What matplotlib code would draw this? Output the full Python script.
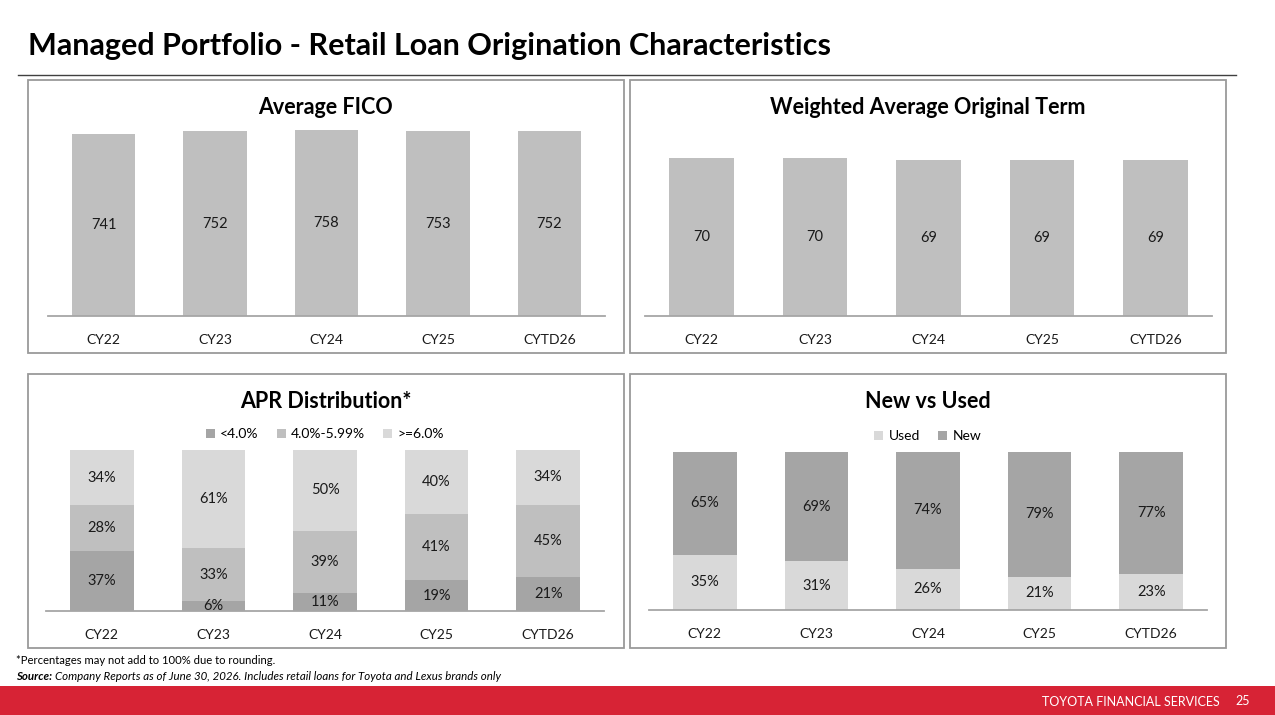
import numpy as np
import matplotlib
matplotlib.use("Agg")
import matplotlib.pyplot as plt
from matplotlib.patches import Rectangle
from matplotlib.lines import Line2D

plt.rcParams['font.family'] = ['Lato', 'DejaVu Sans']

# dados
anos = ['CY22', 'CY23', 'CY24', 'CY25', 'CYTD26']
fico = [741, 752, 758, 753, 752]
prazo = [70, 70, 69, 69, 69]
apr_baixo = [37, 6, 11, 19, 21]
apr_medio = [28, 33, 39, 41, 45]
apr_alto = [34, 61, 50, 40, 34]
apr_nomes = ['<4.0%', '4.0%-5.99%', '>=6.0%']
usados = [35, 31, 26, 21, 23]
novos = [65, 69, 74, 79, 77]

W, H = 1275, 715
fig = plt.figure(figsize=(W / 100, H / 100), dpi=100)
fig.patch.set_facecolor('white')

CINZA_ESC = '#A5A5A5'
CINZA_MED = '#BFBFBF'
CINZA_CLA = '#D9D9D9'
TXT = '#1a1a1a'


def eixo_px(x0, y0, x1, y1):
    return fig.add_axes([x0 / W, 1 - y1 / H, (x1 - x0) / W, (y1 - y0) / H])


def caixa(x0, y0, x1, y1):
    fig.patches.append(Rectangle((x0 / W, 1 - y1 / H), (x1 - x0) / W, (y1 - y0) / H,
                                 transform=fig.transFigure, fill=False,
                                 edgecolor='#9a9a9a', linewidth=1.3))


def estilo(ax, titulo, y_titulo, cx):
    for s in ['top', 'right', 'left']:
        ax.spines[s].set_visible(False)
    ax.spines['bottom'].set_color('#a6a6a6')
    ax.spines['bottom'].set_linewidth(1.3)
    ax.set_yticks([])
    ax.set_xticks(range(len(anos)))
    ax.set_xticklabels(anos, fontsize=10, color=TXT)
    ax.tick_params(axis='x', length=0, pad=13)
    ax.set_xlim(-0.5, len(anos) - 0.5)
    ax.set_facecolor('none')
    fig.text(cx / W, 1 - y_titulo / H, titulo, ha='center', va='center',
             fontsize=15.5, fontweight='bold', color='black')


# titulo
fig.text(28 / W, 1 - 46 / H, 'Managed Portfolio - Retail Loan Origination Characteristics',
         ha='left', va='center', fontsize=22, fontweight='bold', color='black')
fig.add_artist(Line2D([18 / W, 1236 / W], [1 - 75 / H, 1 - 75 / H], color='#404040', lw=1.0))

caixa(28, 80, 624, 353)
caixa(630, 80, 1226, 353)
caixa(28, 374, 624, 648)
caixa(630, 374, 1226, 648)

x = np.arange(len(anos))
larg = 0.57

# Average FICO
ax1 = eixo_px(48, 119.5, 605, 316)
ax1.bar(x, fico, width=larg, color=CINZA_MED)
ax1.set_ylim(0, 800)
for i, v in enumerate(fico):
    ax1.text(i, v / 2, str(v), ha='center', va='center', fontsize=10.5, color=TXT)
estilo(ax1, 'Average FICO', 107, 326)

# Weighted Average Original Term
ax2 = eixo_px(645, 135.5, 1212, 316)
ax2.bar(x, prazo, width=larg, color=CINZA_MED)
ax2.set_ylim(0, 80)
for i, v in enumerate(prazo):
    ax2.text(i, v / 2, str(v), ha='center', va='center', fontsize=10.5, color=TXT)
estilo(ax2, 'Weighted Average Original Term', 107, 928)

# APR Distribution
ax3 = eixo_px(46, 450, 604, 611)
tot = np.array(apr_baixo) + np.array(apr_medio) + np.array(apr_alto)
base = np.zeros(len(anos))
for serie, cor, nome in zip([apr_baixo, apr_medio, apr_alto],
                            [CINZA_ESC, CINZA_MED, CINZA_CLA], apr_nomes):
    h = np.array(serie) / tot
    ax3.bar(x, h, width=larg, bottom=base, color=cor, label=nome)
    for i in range(len(anos)):
        ax3.text(i, base[i] + h[i] / 2, f'{serie[i]}%', ha='center', va='center',
                 fontsize=10.5, color=TXT)
    base = base + h
ax3.set_ylim(0, 1)
ax3.legend(loc='lower center', bbox_to_anchor=(0.5, 1.0), ncol=3, frameon=False,
           handlelength=0.65, handleheight=0.65, handletextpad=0.4,
           columnspacing=1.3, fontsize=10, borderaxespad=0.3)
estilo(ax3, 'APR Distribution*', 401, 326)

# New vs Used
ax4 = eixo_px(649, 452, 1207, 610)
tot2 = np.array(usados) + np.array(novos)
base = np.zeros(len(anos))
for serie, cor, nome in zip([usados, novos], [CINZA_CLA, CINZA_ESC], ['Used', 'New']):
    h = np.array(serie) / tot2
    ax4.bar(x, h, width=larg, bottom=base, color=cor, label=nome)
    for i in range(len(anos)):
        ax4.text(i, base[i] + h[i] / 2, f'{serie[i]}%', ha='center', va='center',
                 fontsize=10.5, color=TXT)
    base = base + h
ax4.set_ylim(0, 1)
ax4.legend(loc='lower center', bbox_to_anchor=(0.5, 1.0), ncol=2, frameon=False,
           handlelength=0.65, handleheight=0.65, handletextpad=0.4,
           columnspacing=1.3, fontsize=10, borderaxespad=0.3)
estilo(ax4, 'New vs Used', 401, 928)

# notas
fig.text(16 / W, 1 - 661 / H, '*Percentages may not add to 100% due to rounding.',
         ha='left', va='center', fontsize=8.1, color='black')
fonte = fig.text(16 / W, 1 - 676 / H, 'Source: ', ha='left', va='center', fontsize=8.3,
                 fontweight='bold', style='italic', color='black')
fig.canvas.draw()
fim = fonte.get_window_extent().x1
fig.text(fim / W, 1 - 676 / H,
         'Company Reports as of June 30, 2026. Includes retail loans for Toyota and Lexus brands only',
         ha='left', va='center', fontsize=8.3, style='italic', color='black')

# faixa vermelha
fig.patches.append(Rectangle((0, 0), 1, 29 / H, transform=fig.transFigure,
                             facecolor='#D72335', edgecolor='none'))
fig.text(1220 / W, 1 - 702 / H, 'TOYOTA FINANCIAL SERVICES', ha='right', va='center',
         fontsize=9, color='white')
fig.text(1243 / W, 1 - 701 / H, '25', ha='center', va='center', fontsize=9, color='white')

fig.savefig('out.png', dpi=100)
